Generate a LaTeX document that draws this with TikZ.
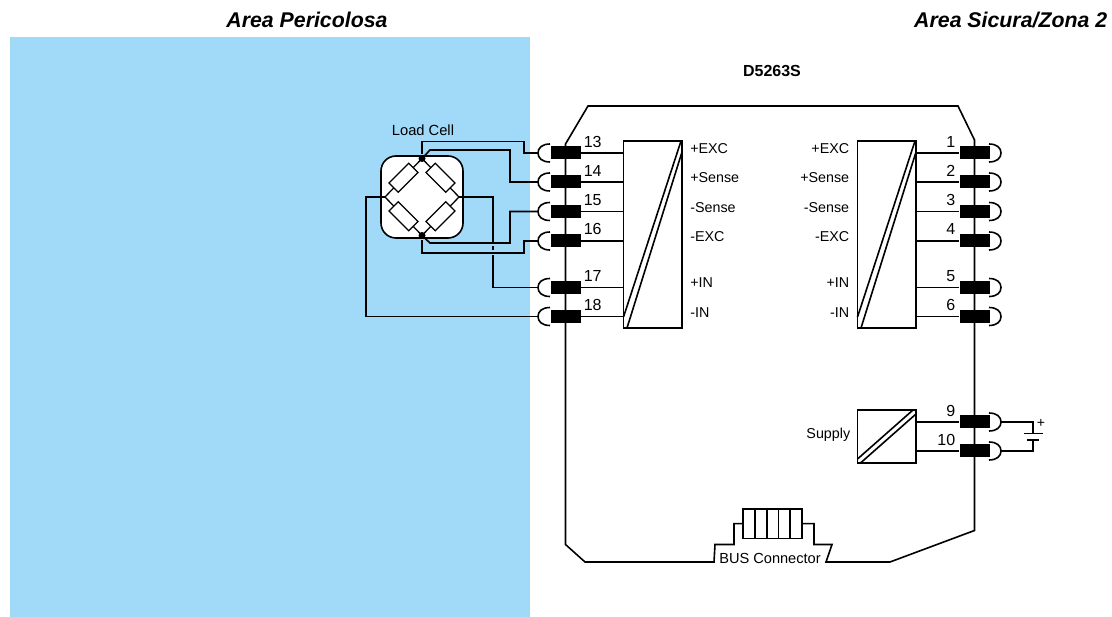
\documentclass[tikz,border=0pt]{standalone}
\usepackage{fontspec}
\setmainfont{Liberation Sans}
\usetikzlibrary{calc}

\definecolor{hazard}{HTML}{A1D9F9}

\def\linew{1.6pt}

\newcommand{\cupleft}[2]{
    \coordinate (C-#1) at (538,#2);
    \draw (550,#2-9) .. controls (542,#2-9) and (538,#2-5) .. (538,#2) .. controls (538,#2+5) and (542,#2+9) .. (550,#2+9);
}
\newcommand{\cupright}[2]{
    \coordinate (C-#1) at (1001,#2);
    \draw (989,#2-9) .. controls (997,#2-9) and (1001,#2-5) .. (1001,#2) .. controls (1001,#2+5) and (997,#2+9) .. (989,#2+9);
}

\begin{document}
\begin{tikzpicture}[x=1pt,y=-1pt,line width=\linew,draw=black]
    \tikzstyle{terminal}=[rectangle,fill=black,minimum width=30pt,minimum height=13pt,inner sep=0pt]
    \tikzstyle{module}=[rectangle,draw,inner sep=0pt,outer sep=0pt,minimum width=58.5pt,anchor=north west]
    \tikzstyle{resistor}=[rectangle,draw,fill=white,minimum width=28pt,minimum height=13pt,inner sep=0pt,outer sep=0pt,line width=1.3pt]
    \tikzstyle{bridge dot}=[circle,fill=black,minimum size=7pt,inner sep=0pt]
    \tikzstyle{annot}=[inner sep=0pt,font=\fontsize{14.3}{16}\selectfont]
    \tikzstyle{pinnum}=[inner sep=0pt,font=\fontsize{16}{18}\selectfont]
    \tikzstyle{title}=[inner sep=0pt,font=\fontsize{21.3}{24}\selectfont\bfseries\itshape]

    \useasboundingbox (0,0) rectangle (1112,617);

    % Draw the hazardous area and the titles
    \fill[hazard] (10,37) rectangle (530,617);
    \node[title] (title-l) at (307,20) {Area Pericolosa};
    \node[title,anchor=east] (title-r) at (1108,20) {Area Sicura/Zona 2};
    \node[annot,font=\fontsize{16}{18}\selectfont\bfseries] (name) at (772,71) {D5263S};

    % Draw the terminals on the hazardous side
    \node[terminal] (T-13) at (565.5,153) {};
    \node[terminal] (T-14) at (565.5,182) {};
    \node[terminal] (T-15) at (565.5,211.5) {};
    \node[terminal] (T-16) at (565.5,241) {};
    \node[terminal] (T-17) at (565.5,287.5) {};
    \node[terminal] (T-18) at (565.5,316.5) {};
    \cupleft{13}{153}
    \cupleft{14}{182}
    \cupleft{15}{211.5}
    \cupleft{16}{241}
    \cupleft{17}{287.5}
    \cupleft{18}{316.5}

    % Draw the terminals on the safe side
    \node[terminal] (T-1) at (974.5,153) {};
    \node[terminal] (T-2) at (974.5,182) {};
    \node[terminal] (T-3) at (974.5,211.5) {};
    \node[terminal] (T-4) at (974.5,241) {};
    \node[terminal] (T-5) at (974.5,287.5) {};
    \node[terminal] (T-6) at (974.5,316.5) {};
    \node[terminal] (T-9) at (974.5,422) {};
    \node[terminal] (T-10) at (974.5,451) {};
    \cupright{1}{153}
    \cupright{2}{182}
    \cupright{3}{211.5}
    \cupright{4}{241}
    \cupright{5}{287.5}
    \cupright{6}{316.5}
    \cupright{9}{422}
    \cupright{10}{451}

    % Terminal numbers
    \node[pinnum,anchor=west] (n-13) at (583,142) {13};
    \node[pinnum,anchor=west] (n-14) at (583,171) {14};
    \node[pinnum,anchor=west] (n-15) at (583,200) {15};
    \node[pinnum,anchor=west] (n-16) at (583,229) {16};
    \node[pinnum,anchor=west] (n-17) at (583,276) {17};
    \node[pinnum,anchor=west] (n-18) at (583,305) {18};
    \node[pinnum,anchor=east] (n-1) at (956,142) {1};
    \node[pinnum,anchor=east] (n-2) at (956,171) {2};
    \node[pinnum,anchor=east] (n-3) at (956,200) {3};
    \node[pinnum,anchor=east] (n-4) at (956,229) {4};
    \node[pinnum,anchor=east] (n-5) at (956,276) {5};
    \node[pinnum,anchor=east] (n-6) at (956,305) {6};
    \node[pinnum,anchor=east] (n-9) at (956,411) {9};
    \node[pinnum,anchor=east] (n-10) at (956,440) {10};

    % Draw the isolation modules
    \node[module,minimum height=187pt] (M-L) at (623.5,141) {};
    \node[module,minimum height=187pt] (M-R) at (857.5,141) {};
    \node[module,minimum height=53pt] (M-S) at (857.5,410) {};
    \draw ([xshift=-1pt]M-L.north east) -- ([yshift=11pt]M-L.south west);
    \draw ([yshift=-11pt]M-L.north east) -- ([xshift=3.5pt]M-L.south west);
    \draw ([xshift=-1pt]M-R.north east) -- ([yshift=11pt]M-R.south west);
    \draw ([yshift=-11pt]M-R.north east) -- ([xshift=3.5pt]M-R.south west);
    \draw ([xshift=-3pt]M-S.north east) -- ([yshift=4pt]M-S.south west);
    \draw ([yshift=-4pt]M-S.north east) -- ([xshift=3pt]M-S.south west);

    % Connect the terminals with the modules
    \draw (T-13) -- (T-13 -| M-L.west);
    \draw (T-14) -- (T-14 -| M-L.west);
    \draw (T-15) -- (T-15 -| M-L.west);
    \draw (T-16) -- (T-16 -| M-L.west);
    \draw (T-17) -- (T-17 -| M-L.west);
    \draw (T-18) -- (T-18 -| M-L.west);
    \draw (T-1) -- (T-1 -| M-R.east);
    \draw (T-2) -- (T-2 -| M-R.east);
    \draw (T-3) -- (T-3 -| M-R.east);
    \draw (T-4) -- (T-4 -| M-R.east);
    \draw (T-5) -- (T-5 -| M-R.east);
    \draw (T-6) -- (T-6 -| M-R.east);
    \draw (T-9) -- (T-9 -| M-S.east);
    \draw (T-10) -- (T-10 -| M-S.east);

    % Module labels
    \node[annot,anchor=base west] (l-13) at (689.5,154) {+EXC};
    \node[annot,anchor=base west] (l-14) at (689.5,183) {+Sense};
    \node[annot,anchor=base west] (l-15) at (689.5,213) {-Sense};
    \node[annot,anchor=base west] (l-16) at (689.5,242) {-EXC};
    \node[annot,anchor=base west] (l-17) at (689.5,288) {+IN};
    \node[annot,anchor=base west] (l-18) at (689.5,318) {-IN};
    \node[annot,anchor=base east] (l-1) at (850,154) {+EXC};
    \node[annot,anchor=base east] (l-2) at (850,183) {+Sense};
    \node[annot,anchor=base east] (l-3) at (850,213) {-Sense};
    \node[annot,anchor=base east] (l-4) at (850,242) {-EXC};
    \node[annot,anchor=base east] (l-5) at (850,288) {+IN};
    \node[annot,anchor=base east] (l-6) at (850,318) {-IN};
    \node[annot,anchor=base east] (l-s) at (851,439) {Supply};

    % Draw the bus connector and the outline of the unit
    \node[rectangle,draw,minimum width=59pt,minimum height=29.5pt,inner sep=0pt,outer sep=0pt,line width=1.3pt] (BUS) at (772.5,523.7) {};
    \foreach \x in {755,767,778.5,790}
        \draw[line width=1.3pt] (\x,509) -- (\x,538.5);
    \node[annot,font=\fontsize{14.6}{16}\selectfont] (bus-l) at (770,558.5) {BUS Connector};
    \draw (T-13.center) -- (565.5,144) -- (588,106) -- (958,106) -- (974.5,140) -- (974.5,530.5) -- (890,562) -- (826,562) -- (832,544.5) -- (814,544.5) -- (814,523.7) -- (BUS.east);
    \draw (T-13.center) -- (565.5,544.5) -- (585,562) -- (714,562) -- (715,544.5) -- (734,544.5) -- (734,523.7) -- (BUS.west);

    % Draw the load cell
    \node[annot,font=\fontsize{14.7}{16}\selectfont] (cell-l) at (423,130) {Load Cell};
    \node[rectangle,draw,fill=white,rounded corners=15pt,minimum size=82pt,inner sep=0pt,outer sep=0pt] (cell) at (422,197) {};
    \node[bridge dot] (B-T) at (422,158.5) {};
    \node[bridge dot] (B-B) at (422,235.5) {};
    \coordinate (B-L) at (385,197);
    \coordinate (B-R) at (459,197);
    \draw[line width=1.3pt] (B-T.center) -- (B-R) -- (B-B.center) -- (B-L) -- cycle;
    \node[resistor,rotate=45] (R-1) at ($(B-L)!0.5!(B-T)$) {};
    \node[resistor,rotate=-45] (R-2) at ($(B-T)!0.5!(B-R)$) {};
    \node[resistor,rotate=-45] (R-3) at ($(B-L)!0.5!(B-B)$) {};
    \node[resistor,rotate=45] (R-4) at ($(B-B)!0.5!(B-R)$) {};

    % Connect the load cell with the terminals
    \draw (C-13) -- (524,153) -- (524,141.5) -- (422,141.5) -- (B-T);
    \draw (C-14) -- (510,182) -- (510,150) -- (430,150) -- (B-T);
    \draw (C-15) -- (510,211.5) -- (510,243) -- (430,243) -- (B-B);
    \draw (C-16) -- (524,241) -- (524,253) -- (422,253) -- (B-B);
    \draw (C-17) -- (493,287.5) -- (493,255.5);
    \draw (493,250) -- (493,246);
    \draw (493,242) -- (493,197) -- (B-R);
    \draw (C-18) -- (366,316.5) -- (366,197) -- (B-L);

    % Draw the supply battery
    \coordinate (bat-p) at (1033,433.5);
    \coordinate (bat-n) at (1033,440);
    \draw (C-9) -| (bat-p);
    \draw (C-10) -| (bat-n);
    \draw ($(bat-p)+(-9.5,0)$) -- ($(bat-p)+(9.5,0)$);
    \draw ($(bat-n)+(-6,0)$) -- ($(bat-n)+(6,0)$);
    \node[annot,font=\fontsize{14}{14}\selectfont] (bat-l) at (1041,423) {+};
\end{tikzpicture}
\end{document}
